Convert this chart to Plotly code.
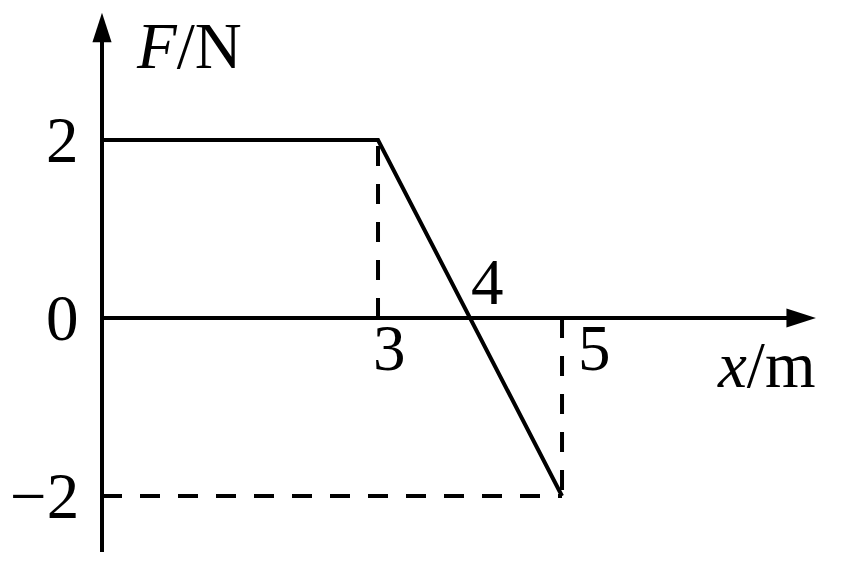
import plotly.graph_objects as go

# Data: F (N) as a function of x (m)
x_vals = [0, 3, 5]
f_vals = [2, 2, -2]

# Dashed guide lines
guide_x3 = [3, 3]
guide_f3 = [0, 2]
guide_x5 = [5, 5]
guide_f5 = [0, -2]
guide_xh = [0, 5]
guide_fh = [-2, -2]

# Tick labels
y_tick_vals = [2, 0, -2]
y_tick_text = ["2", "0", "\u22122"]
x_tick_text = {"3": 3, "4": 4, "5": 5}

# Axis extents (diagram)
x_axis_end = 7.76
f_axis_top = 3.43
f_axis_bottom = -2.63

FONT = "Liberation Serif"
FS = 65
LW = 4

fig = go.Figure()

# axis lines
fig.add_trace(go.Scatter(
    x=[0, x_axis_end - 0.15], y=[0, 0], mode="lines",
    line=dict(color="black", width=LW), hoverinfo="skip"))
fig.add_trace(go.Scatter(
    x=[0, 0], y=[f_axis_bottom, f_axis_top - 0.15], mode="lines",
    line=dict(color="black", width=LW), hoverinfo="skip"))
# arrow heads
fig.add_trace(go.Scatter(
    x=[x_axis_end, 0], y=[0, f_axis_top], mode="markers",
    marker=dict(symbol="arrow", size=31, angle=[90, 0], standoff=0,
                color="black", opacity=1, line=dict(width=0)),
    hoverinfo="skip"))

# dashed guides
for gx, gf in [(guide_x3, guide_f3), (guide_x5, guide_f5), (guide_xh, guide_fh)]:
    fig.add_trace(go.Scatter(x=gx, y=gf, mode="lines",
                             line=dict(color="black", width=LW, dash="20px,18px"),
                             hoverinfo="skip"))

# main curve
fig.add_trace(go.Scatter(x=x_vals, y=f_vals, mode="lines",
                         line=dict(color="black", width=4),
                         hoverinfo="skip"))

font = dict(family=FONT, size=FS, color="black")

for v, t in zip(y_tick_vals, y_tick_text):
    fig.add_annotation(x=0, y=v, text=t, showarrow=False, xanchor="right",
                       yanchor="middle", xshift=-21, font=font)

fig.add_annotation(x=x_tick_text["3"], y=0, text="3", showarrow=False,
                   xanchor="center", yanchor="middle", xshift=11, yshift=-30, font=font)
fig.add_annotation(x=x_tick_text["4"], y=0, text="4", showarrow=False,
                   xanchor="center", yanchor="middle", xshift=17, yshift=36, font=font)
fig.add_annotation(x=x_tick_text["5"], y=0, text="5", showarrow=False,
                   xanchor="center", yanchor="middle", xshift=32, yshift=-30, font=font)

fig.add_annotation(x=0, y=3.06, text="<i>F</i>/N", showarrow=False,
                   xanchor="left", yanchor="middle", xshift=32, font=font)
fig.add_annotation(x=6.66, y=-0.53, text="<i>x</i>/m", showarrow=False,
                   xanchor="left", yanchor="middle", font=font)

# page has an 8px body margin; ranges account for it
fig.update_layout(
    width=850, height=572,
    margin=dict(l=0, r=0, t=0, b=0),
    paper_bgcolor="white", plot_bgcolor="white",
    showlegend=False,
    xaxis=dict(range=[-1.0217, 8.217], visible=False, fixedrange=True),
    yaxis=dict(range=[-2.944, 3.483], visible=False, fixedrange=True),
)

fig.write_html("out.html")
